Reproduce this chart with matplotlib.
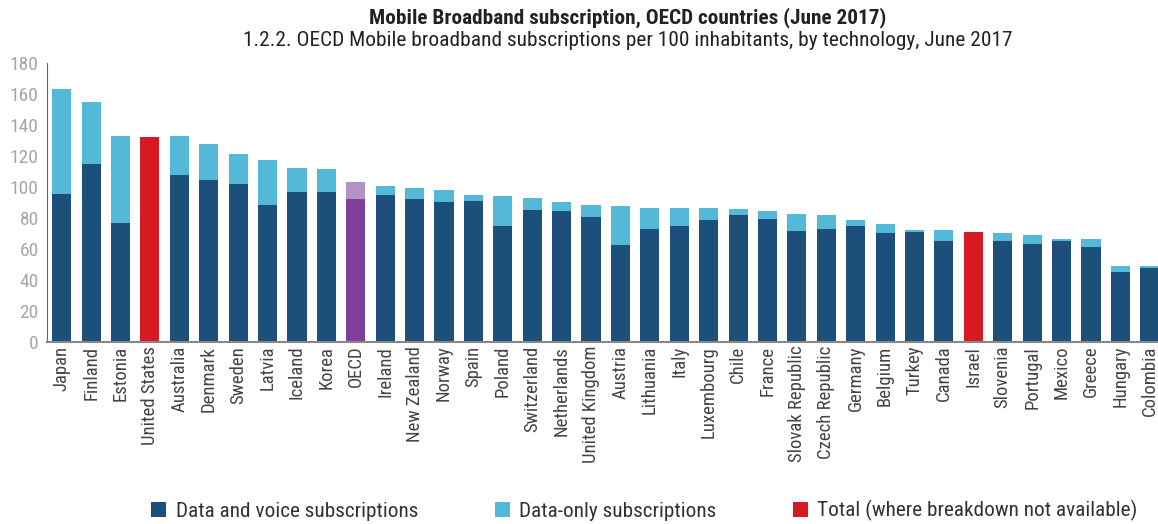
import matplotlib
matplotlib.use("Agg")
import matplotlib.pyplot as plt
from matplotlib.patches import Patch
import numpy as np

countries = [
    "Japan", "Finland", "Estonia", "United States", "Australia", "Denmark",
    "Sweden", "Latvia", "Iceland", "Korea", "OECD", "Ireland", "New Zealand",
    "Norway", "Spain", "Poland", "Switzerland", "Netherlands", "United Kingdom",
    "Austria", "Lithuania", "Italy", "Luxembourg", "Chile", "France",
    "Slovak Republic", "Czech Republic", "Germany", "Belgium", "Turkey",
    "Canada", "Israel", "Slovenia", "Portugal", "Mexico", "Greece", "Hungary",
    "Colombia",
]
# per 100 inhabitants; 0 where only a total is reported
data_voice = [
    95.3, 114.6, 76.6, 0, 107.5, 104.3, 101.7, 88.2, 96.6, 96.6, 92.0, 94.6,
    92.0, 90.1, 90.8, 74.6, 85.0, 84.3, 80.5, 62.4, 72.7, 74.6, 78.5, 81.7,
    79.2, 71.4, 72.7, 74.6, 70.1, 70.8, 65.0, 0, 65.0, 63.0, 65.0, 61.1, 45.0,
    47.5,
]
data_only = [
    67.7, 40.0, 56.1, 0, 25.2, 23.2, 19.3, 29.0, 15.4, 14.8, 11.0, 5.9, 7.2,
    7.8, 3.8, 19.3, 7.7, 5.8, 7.7, 25.1, 13.6, 11.7, 7.8, 3.9, 5.1, 11.0, 9.0,
    3.9, 5.8, 1.3, 7.1, 0, 5.1, 5.8, 1.3, 5.2, 3.8, 1.3,
]
total_only = {"United States": 132.3, "Israel": 71.0}

dark = "#1c4f79"
light = "#54b9d9"
red = "#d71a21"
oecd_dark = "#7f3f98"
oecd_light = "#b392c6"

plt.rcParams["font.family"] = ["Roboto Condensed", "Roboto", "DejaVu Sans"]

fig = plt.figure(figsize=(11.58, 5.24), dpi=100)
ax = fig.add_axes([0.0406, 0.348, 0.965, 0.5324])

x = np.arange(len(countries))
width = 0.65
c_low = [oecd_dark if c == "OECD" else dark for c in countries]
c_high = [oecd_light if c == "OECD" else light for c in countries]
ax.bar(x, data_voice, width, color=c_low, zorder=2)
ax.bar(x, data_only, width, bottom=data_voice, color=c_high, zorder=2)
for name, val in total_only.items():
    ax.bar(countries.index(name), val, width, color=red, zorder=2)

ax.set_xlim(-0.5, len(countries) - 0.5)
ax.set_ylim(0, 180)
ax.set_yticks(np.arange(0, 181, 20))
ax.set_xticks(x)
ax.set_xticklabels(countries, rotation=90, fontsize=13.5, color="#444444")
ax.tick_params(axis="y", length=0, labelsize=14, labelcolor="#a6a6a6", pad=6)
ax.tick_params(axis="x", length=0, pad=3)
for side in ("top", "right"):
    ax.spines[side].set_visible(False)
ax.spines["left"].set_color("#666666")
ax.spines["bottom"].set_color("#888888")
ax.spines["bottom"].set_linewidth(1.5)

fig.text(0.542, 0.966, "Mobile Broadband subscription, OECD countries (June 2017)",
         ha="center", va="center", fontsize=15.3, fontweight="bold", color="#222222")
fig.text(0.542, 0.923,
         "1.2.2. OECD Mobile broadband subscriptions per 100 inhabitants, by technology, June 2017",
         ha="center", va="center", fontsize=15.4, color="#222222")

handles = [
    Patch(facecolor=dark, label="Data and voice subscriptions"),
    Patch(facecolor=light, label="Data-only subscriptions"),
    Patch(facecolor=red, label="Total (where breakdown not available)"),
]
leg = fig.legend(handles=handles, ncol=3, loc="center",
                 bbox_to_anchor=(0.5566, 0.025), frameon=False, fontsize=15.3,
                 handlelength=0.7, handleheight=0.7, handletextpad=0.45,
                 columnspacing=3.6)
for t in leg.get_texts():
    t.set_color("#333333")

fig.savefig("out.png", dpi=100)
